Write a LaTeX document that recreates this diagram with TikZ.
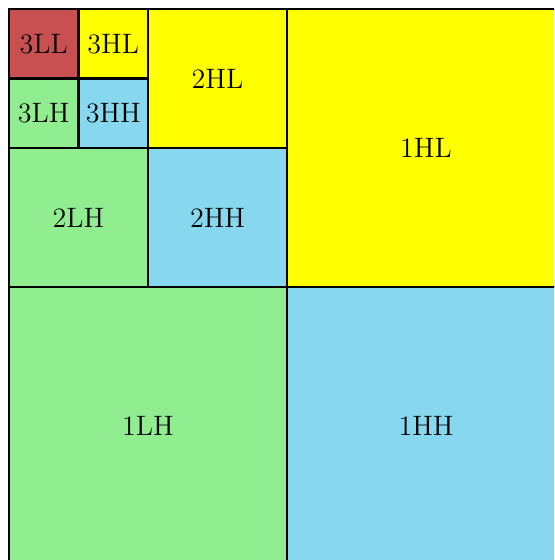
\documentclass[tikz,border=0pt]{standalone}
\usepackage{tikz}
\definecolor{bandLL}{RGB}{200,80,80}
\definecolor{bandHL}{RGB}{255,255,0}
\definecolor{bandLH}{RGB}{144,238,144}
\definecolor{bandHH}{RGB}{135,215,238}

\begin{document}
\begin{tikzpicture}[
			x=1cm, y=1cm,
			band/.style={draw=black, line width=0.9pt},
			ll/.style={band, fill=bandLL},
			hl/.style={band, fill=bandHL},
			lh/.style={band, fill=bandLH},
			hh/.style={band, fill=bandHH},
			tag/.style={font=\fontsize{11.5}{13}\selectfont, inner sep=0pt}
			]
			
			% Frame (picture is cut at right and bottom)
			\useasboundingbox (-0.1295,0.072) rectangle (7.842,8.1295);
			\clip (-0.1295,0.072) rectangle (7.842,8.1295);
			
			% Level 1
			\draw[hl] (4,4) rectangle (8,8) node[tag, midway] (hl1) {1HL};
			\draw[lh] (0,0) rectangle (4,4) node[tag, midway] (lh1) {1LH};
			\draw[hh] (4,0) rectangle (8,4) node[tag, midway] (hh1) {1HH};
			
			% Level 2
			\draw[hl] (2,6) rectangle (4,8) node[tag, midway] (hl2) {2HL};
			\draw[lh] (0,4) rectangle (2,6) node[tag, midway] (lh2) {2LH};
			\draw[hh] (2,4) rectangle (4,6) node[tag, midway] (hh2) {2HH};
			
			% Level 3
			\draw[ll] (0,7) rectangle (1,8) node[tag, midway] (ll3) {3LL};
			\draw[hl] (1,7) rectangle (2,8) node[tag, midway] (hl3) {3HL};
			\draw[lh] (0,6) rectangle (1,7) node[tag, midway] (lh3) {3LH};
			\draw[hh] (1,6) rectangle (2,7) node[tag, midway] (hh3) {3HH};
			
		\end{tikzpicture}
\end{document}
